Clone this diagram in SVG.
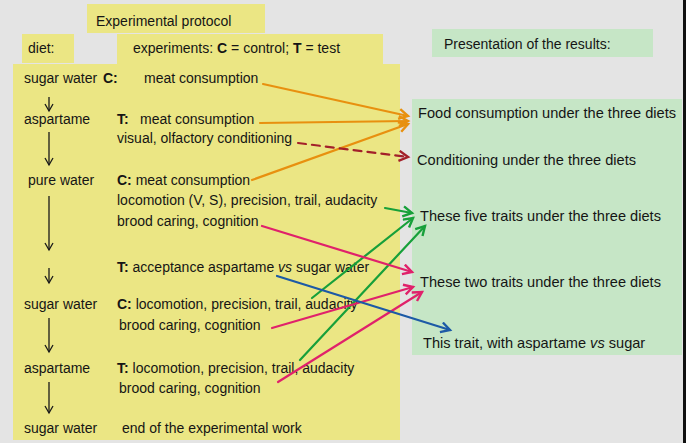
<svg xmlns="http://www.w3.org/2000/svg" width="693" height="443" viewBox="0 0 693 443">
<style>
.t{font-family:"Liberation Sans",Arial,sans-serif;font-size:14px;fill:#151515}
.r{font-size:14.6px}
.b{font-weight:bold}
.i{font-style:italic}
.yel{fill:#ebe684}
.grn{fill:#c6e6c6}
.c{fill:none;stroke-width:2.2;stroke-linecap:round}
.dn{fill:none;stroke:#1a1a1a;stroke-width:1.3}
</style>
<defs>
<marker id="mo" markerUnits="userSpaceOnUse" markerWidth="14" markerHeight="14" refX="10" refY="6" orient="auto"><path d="M1,1 L10,6 L1,11" fill="none" stroke="#e8900f" stroke-width="2.4"/></marker>
<marker id="mr" markerUnits="userSpaceOnUse" markerWidth="14" markerHeight="14" refX="10" refY="6" orient="auto"><path d="M1,1 L10,6 L1,11" fill="none" stroke="#a3202a" stroke-width="2.4"/></marker>
<marker id="mg" markerUnits="userSpaceOnUse" markerWidth="14" markerHeight="14" refX="10" refY="6" orient="auto"><path d="M1,1 L10,6 L1,11" fill="none" stroke="#17a03a" stroke-width="2.4"/></marker>
<marker id="mp" markerUnits="userSpaceOnUse" markerWidth="14" markerHeight="14" refX="10" refY="6" orient="auto"><path d="M1,1 L10,6 L1,11" fill="none" stroke="#e0216b" stroke-width="2.4"/></marker>
<marker id="mb" markerUnits="userSpaceOnUse" markerWidth="14" markerHeight="14" refX="10" refY="6" orient="auto"><path d="M1,1 L10,6 L1,11" fill="none" stroke="#1d5aa6" stroke-width="2.4"/></marker>
<marker id="md" markerUnits="userSpaceOnUse" markerWidth="12" markerHeight="12" refX="8" refY="5" orient="auto"><path d="M1,1 L8,5 L1,9" fill="none" stroke="#1a1a1a" stroke-width="1.3"/></marker>
</defs>
<rect x="0" y="0" width="693" height="443" fill="#e4e4e4"/>
<rect x="683" y="0" width="3" height="443" fill="#111"/>
<rect x="686" y="0" width="7" height="443" fill="#fff"/>

<g id="header-protocol"><rect class="yel" x="87" y="4" width="178" height="29"/><text class="t" x="96" y="26">Experimental protocol</text></g>
<g id="header-diet"><rect class="yel" x="22" y="34" width="52" height="29"/><text class="t" x="28" y="53">diet:</text></g>
<g id="header-experiments"><rect class="yel" x="117" y="34" width="266" height="31"/><text class="t" x="133" y="53">experiments: <tspan class="b">C</tspan> = control; <tspan class="b">T</tspan> = test</text></g>
<g id="header-results"><rect class="grn" x="432" y="29" width="221" height="28"/><text class="t" x="444" y="49">Presentation of the results:</text></g>

<g id="protocol-panel"><rect class="yel" x="13" y="64" width="387" height="376"/></g>
<g id="results-panel"><rect class="grn" x="412" y="99" width="270" height="256"/></g>

<g id="diet-sequence">
<text class="t" x="24" y="83">sugar water</text>
<text class="t" x="24" y="124">aspartame</text>
<text class="t" x="28" y="185">pure water</text>
<text class="t" x="24" y="309">sugar water</text>
<text class="t" x="24" y="373">aspartame</text>
<text class="t" x="24" y="433">sugar water</text>
<line class="dn" x1="49" y1="97" x2="49" y2="111" marker-end="url(#md)"/>
<line class="dn" x1="49" y1="132" x2="49" y2="165" marker-end="url(#md)"/>
<line class="dn" x1="49" y1="196" x2="49" y2="250" marker-end="url(#md)"/>
<line class="dn" x1="49" y1="268" x2="49" y2="283" marker-end="url(#md)"/>
<line class="dn" x1="49" y1="318" x2="49" y2="352" marker-end="url(#md)"/>
<line class="dn" x1="49" y1="382" x2="49" y2="413" marker-end="url(#md)"/>
</g>

<g id="exp-c1"><text class="t" x="103" y="83"><tspan class="b">C:</tspan><tspan x="144">meat consumption</tspan></text></g>
<g id="exp-t1"><text class="t" x="117" y="124"><tspan class="b">T:</tspan><tspan x="140">meat consumption</tspan></text><text class="t" x="117" y="143">visual, olfactory conditioning</text></g>
<g id="exp-c2"><text class="t" x="117" y="185"><tspan class="b">C:</tspan> meat consumption</text><text class="t" x="117" y="205">locomotion (V, S), precision, trail, audacity</text><text class="t" x="117" y="226">brood caring, cognition</text></g>
<g id="exp-t2"><text class="t" x="117" y="272"><tspan class="b">T:</tspan> acceptance aspartame <tspan class="i">vs</tspan> sugar water</text></g>
<g id="exp-c3"><text class="t" x="117" y="309"><tspan class="b">C:</tspan> locomotion, precision, trail, audacity</text><text class="t" x="119" y="330">brood caring, cognition</text></g>
<g id="exp-t3"><text class="t" x="117" y="373"><tspan class="b">T:</tspan> locomotion, precision, trail, audacity</text><text class="t" x="119" y="393">brood caring, cognition</text></g>
<g id="exp-end"><text class="t" x="122" y="433">end of the experimental work</text></g>

<g id="res-food"><text class="t r" x="418" y="118">Food consumption under the three diets</text></g>
<g id="res-cond"><text class="t r" x="417" y="165">Conditioning under the three diets</text></g>
<g id="res-five"><text class="t r" x="420" y="221">These five traits under the three diets</text></g>
<g id="res-two"><text class="t r" x="420" y="287">These two traits under the three diets</text></g>
<g id="res-one"><text class="t r" x="423" y="348">This trait, with aspartame <tspan class="i">vs</tspan> sugar</text></g>

<g id="connectors">
<line class="c" stroke="#e8900f" x1="263" y1="84" x2="408" y2="116" marker-end="url(#mo)"/>
<line class="c" stroke="#e8900f" x1="260" y1="123" x2="408" y2="121" marker-end="url(#mo)"/>
<line class="c" stroke="#e8900f" x1="252" y1="180" x2="408" y2="124" marker-end="url(#mo)"/>
<line class="c" stroke="#a3202a" stroke-width="2.6" stroke-dasharray="8 6" x1="298" y1="143" x2="408" y2="157" marker-end="url(#mr)"/>
<line class="c" stroke="#17a03a" x1="385" y1="208" x2="412" y2="213" marker-end="url(#mg)"/>
<line class="c" stroke="#17a03a" x1="312" y1="298" x2="413" y2="218" marker-end="url(#mg)"/>
<line class="c" stroke="#17a03a" x1="300" y1="360" x2="425" y2="226" marker-end="url(#mg)"/>
<line class="c" stroke="#e0216b" x1="262" y1="226" x2="412" y2="272" marker-end="url(#mp)"/>
<line class="c" stroke="#e0216b" x1="272" y1="328" x2="413" y2="287" marker-end="url(#mp)"/>
<line class="c" stroke="#e0216b" x1="278" y1="382" x2="422" y2="292" marker-end="url(#mp)"/>
<line class="c" stroke="#1d5aa6" x1="277" y1="276" x2="450" y2="330" marker-end="url(#mb)"/>
</g>
</svg>
